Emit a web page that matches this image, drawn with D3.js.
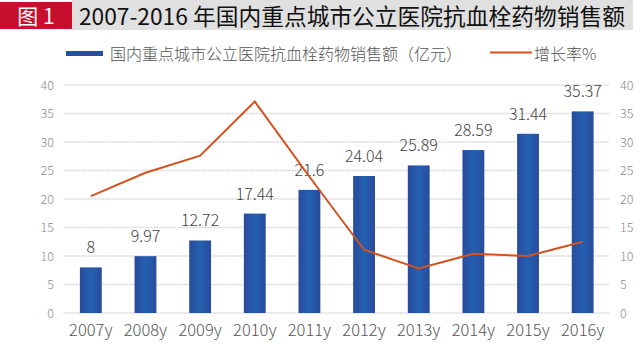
<!DOCTYPE html>
<html><head><meta charset="utf-8">
<script src="https://cdn.jsdelivr.net/npm/d3@7"></script>
<style>body{margin:0;background:#fff;}svg{display:block;}</style>
</head><body>
<svg id="c" width="640" height="355"></svg>
<script>
const years = ["2007y","2008y","2009y","2010y","2011y","2012y","2013y","2014y","2015y","2016y"];
const sales = [8, 9.97, 12.72, 17.44, 21.6, 24.04, 25.89, 28.59, 31.44, 35.37];
const growth = [20.5, 24.6, 27.6, 37.1, 23.9, 11.1, 7.8, 10.4, 10.0, 12.5];
const yTicks = [0,5,10,15,20,25,30,35,40];
const titleBadge = "图 1";
const titleText = "2007-2016 年国内重点城市公立医院抗血栓药物销售额";
const legendBar = "国内重点城市公立医院抗血栓药物销售额（亿元）";
const legendLine = "增长率%";

const svg = d3.select("#c");
const font = "'Noto Sans CJK SC', 'Noto Sans', sans-serif";

// title
svg.append("rect").attr("x",72).attr("y",0).attr("width",561).attr("height",30).attr("fill","#e0e0e0");
svg.append("rect").attr("x",0).attr("y",2).attr("width",72).attr("height",27).attr("fill","#c8102e");
svg.append("text").attr("x",36).attr("y",24).attr("text-anchor","middle").attr("fill","#fff")
  .attr("font-family",font).attr("font-size",21).text(titleBadge);
svg.append("text").attr("x",79).attr("y",24.5).attr("fill","#111")
  .attr("font-family",font).attr("font-size",22.5).attr("textLength",546).attr("lengthAdjust","spacingAndGlyphs").text(titleText);

const x = d3.scaleBand().domain(years).range([63.5,610]).paddingInner(0.6).paddingOuter(0.3);
const yL = d3.scaleLinear().domain([0,40]).range([313,85]);
const yR = d3.scaleLinear().domain([0,40]).range([313,85]);

// grid
svg.append("g").selectAll("line").data(yTicks).join("line")
  .attr("x1",63.5).attr("x2",610).attr("y1",d=>yL(d)).attr("y2",d=>yL(d))
  .attr("stroke","#d6d6d6").attr("stroke-width",1.3).attr("stroke-dasharray","2,1");

// axes
const axL = svg.append("g").attr("transform","translate(54,0)")
  .call(d3.axisLeft(yL).tickValues(yTicks).tickSize(0).tickPadding(0));
const axR = svg.append("g").attr("transform","translate(620,0)")
  .call(d3.axisRight(yR).tickValues(yTicks).tickSize(0).tickPadding(0));
const axB = svg.append("g").attr("transform","translate(0,313)")
  .call(d3.axisBottom(x).tickSize(0).tickPadding(11));
[axL,axR,axB].forEach(a=>{a.select(".domain").remove();});
[axL,axR].forEach(a=>a.selectAll("text").attr("font-family",font).attr("font-size",12.5).attr("fill","#8a8a8a").attr("font-weight",300));
axB.selectAll("text").attr("font-family",font).attr("font-size",16.5).attr("fill","#555").attr("font-weight",300);

// gradient
const defs = svg.append("defs");
const g = defs.append("linearGradient").attr("id","bg").attr("x1","0").attr("x2","1");
g.append("stop").attr("offset","0").attr("stop-color","#2a4b9c");
g.append("stop").attr("offset","0.5").attr("stop-color","#2360b0");
g.append("stop").attr("offset","1").attr("stop-color","#2a4b9c");

svg.append("g").selectAll("rect").data(sales).join("rect")
  .attr("x",(d,i)=>x(years[i])).attr("width",x.bandwidth())
  .attr("y",d=>yL(d)).attr("height",d=>yL(0)-yL(d)).attr("fill","url(#bg)");

svg.append("g").selectAll("text").data(sales).join("text")
  .attr("x",(d,i)=>x(years[i])+x.bandwidth()/2).attr("y",d=>yL(d)-14)
  .attr("text-anchor","middle").attr("font-family",font).attr("font-size",16).attr("font-weight",300)
  .attr("fill","#444").text(d=>d);

svg.append("path").datum(growth)
  .attr("d",d3.line().x((d,i)=>x(years[i])+x.bandwidth()/2).y(d=>yR(d)))
  .attr("fill","none").attr("stroke","#d4521e").attr("stroke-width",2);

// legend
svg.append("rect").attr("x",66).attr("y",51).attr("width",37).attr("height",5).attr("fill","#24519f");
svg.append("text").attr("x",110).attr("y",60).attr("font-family",font).attr("font-size",16).attr("font-weight",300)
  .attr("fill","#555").attr("textLength",352).attr("lengthAdjust","spacingAndGlyphs").text(legendBar);
svg.append("line").attr("x1",490).attr("x2",532).attr("y1",52.5).attr("y2",52.5).attr("stroke","#d4521e").attr("stroke-width",2);
svg.append("text").attr("x",534).attr("y",60).attr("font-family",font).attr("font-size",16).attr("font-weight",300)
  .attr("fill","#555").text(legendLine);
</script>
</body></html>
